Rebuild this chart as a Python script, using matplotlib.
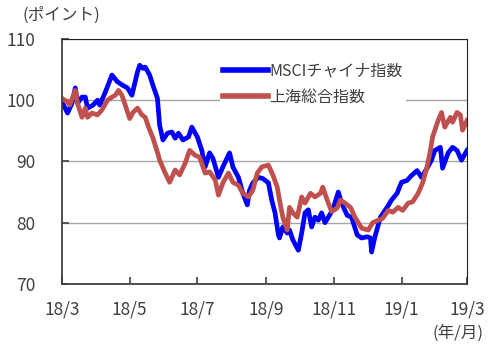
import numpy as np
import pandas as pd
import matplotlib
matplotlib.use("Agg")
import matplotlib.pyplot as plt

plt.rcParams['font.family'] = ['Noto Sans CJK JP', 'DejaVu Sans']

start = pd.Timestamp('2018-03-01')

# days since 2018-03-01 and index level (start = 100)
msci_days = [0, 5, 9, 12, 14, 18, 21, 23, 28, 32, 34, 39, 45, 50, 55, 59, 63, 68, 70, 73,
             75, 79, 82, 86, 88, 91, 95, 99, 102, 105, 109, 114, 117, 122, 126, 129, 133, 136,
             141, 145, 151, 154, 159, 163, 167, 169, 172, 177, 181, 186, 189, 192, 195, 196,
             199, 203, 205, 208, 213, 216, 219, 222, 225, 228, 231, 234, 237, 240, 244, 249,
             252, 257, 261, 266, 270, 275, 278, 279, 282, 287, 293, 297, 302, 306, 311, 315,
             320, 324, 329, 333, 336, 341, 343, 348, 352, 356, 360, 365]
msci_vals = [99.7, 97.9, 99.5, 102.0, 99.5, 100.5, 100.5, 98.7, 99.2, 100.0, 99.2, 101.3,
             104.1, 103.0, 102.4, 102.0, 100.8, 104.6, 105.7, 105.2, 105.4, 104.1, 102.4,
             100.3, 95.9, 93.5, 94.6, 94.8, 93.8, 94.6, 93.5, 94.0, 95.6, 94.0, 91.8, 89.1,
             91.4, 90.5, 87.4, 89.1, 91.4, 89.1, 87.4, 84.8, 82.9, 85.3, 86.5, 87.4, 87.2,
             86.5, 83.7, 81.6, 78.0, 77.5, 79.3, 78.3, 78.8, 77.2, 75.5, 78.3, 81.6, 82.1,
             79.3, 80.9, 80.4, 81.6, 80.0, 80.9, 82.1, 85.0, 83.2, 81.2, 80.9, 78.0, 77.5,
             77.7, 77.5, 75.2, 77.7, 80.9, 82.5, 83.7, 84.8, 86.6, 86.9, 87.7, 88.5, 87.4,
             88.9, 90.2, 91.8, 92.3, 88.9, 91.4, 92.3, 91.8, 90.2, 91.8]

sh_days = [0, 5, 7, 12, 14, 18, 21, 23, 27, 32, 36, 41, 45, 48, 51, 54, 57, 61, 64, 68, 72,
           75, 78, 82, 86, 88, 93, 97, 102, 106, 111, 115, 120, 124, 129, 133, 138, 141, 145,
           150, 154, 159, 163, 168, 172, 176, 180, 186, 190, 194, 196, 199, 203, 205, 208,
           212, 216, 219, 224, 228, 233, 235, 239, 243, 248, 251, 255, 260, 264, 270, 276,
           280, 285, 289, 294, 298, 303, 307, 312, 316, 321, 325, 329, 332, 334, 339, 342,
           345, 350, 352, 356, 359, 361, 365]
sh_vals = [100.3, 99.7, 99.2, 101.6, 99.5, 97.2, 98.7, 97.2, 97.9, 97.6, 98.4, 100.0, 100.5,
           100.8, 101.6, 100.8, 99.2, 97.0, 98.0, 98.7, 97.6, 97.2, 95.6, 93.8, 91.5, 90.2,
           88.1, 86.6, 88.6, 87.8, 89.7, 91.8, 91.0, 90.7, 88.1, 88.3, 87.0, 84.5, 86.5,
           88.1, 86.6, 86.1, 84.8, 84.2, 85.3, 88.1, 89.1, 89.4, 87.8, 85.8, 83.7, 80.9,
           78.8, 82.5, 81.6, 80.9, 84.2, 83.2, 84.8, 84.2, 84.8, 85.8, 83.7, 81.8, 82.4,
           83.7, 83.2, 82.5, 80.9, 79.1, 78.8, 80.0, 80.4, 80.7, 82.0, 81.7, 82.5, 82.0,
           83.2, 83.4, 84.8, 86.5, 89.1, 91.8, 94.0, 96.7, 98.0, 95.6, 97.2, 96.4, 98.0,
           97.6, 95.1, 96.7]

series_names = ['MSCIチャイナ指数', '上海総合指数']
series_colors = ['#0000FF', '#C0504D']

tick_dates = ['2018-03-01', '2018-05-01', '2018-07-01', '2018-09-01',
              '2018-11-01', '2019-01-01', '2019-03-01']
tick_labels = ['18/3', '18/5', '18/7', '18/9', '18/11', '19/1', '19/3']

msci_x = start + pd.to_timedelta(msci_days, unit='D')
sh_x = start + pd.to_timedelta(sh_days, unit='D')

fig = plt.figure(figsize=(5, 3.54), dpi=100)
ax = fig.add_axes([0.124, 0.198, 0.81, 0.692])

ax.plot(msci_x, msci_vals, color=series_colors[0], lw=3.4, label=series_names[0],
        solid_joinstyle='round')
ax.plot(sh_x, sh_vals, color=series_colors[1], lw=3.4, label=series_names[1],
        solid_joinstyle='round')

ax.set_ylim(70, 110)
ax.set_yticks([70, 80, 90, 100, 110])
ax.set_xlim(pd.Timestamp(tick_dates[0]), pd.Timestamp(tick_dates[-1]))
ax.set_xticks(pd.to_datetime(tick_dates))
ax.set_xticklabels(tick_labels)
ax.grid(axis='y', color='#A6A6A6', lw=1)
ax.set_axisbelow(True)

for s in ['left', 'bottom']:
    ax.spines[s].set_color('#404040')
    ax.spines[s].set_linewidth(1.3)
for s in ['top', 'right']:
    ax.spines[s].set_color('#202020')
    ax.spines[s].set_linewidth(0.8)
ax.tick_params(direction='in', length=5, width=1.2, color='#404040',
               labelsize=12.5, labelcolor='#404040', pad=12)
ax.tick_params(axis='y', pad=19)

leg = ax.legend(loc='upper left', bbox_to_anchor=(0.39, 0.915), frameon=True,
                fontsize=11.5, handlelength=2.8, labelspacing=0.55, borderpad=0.2,
                handletextpad=0.1, borderaxespad=0)
leg.get_frame().set_edgecolor('none')
leg.get_frame().set_facecolor('white')
leg.get_frame().set_alpha(1)
for t in leg.get_texts():
    t.set_color('#404040')
for h in leg.get_lines():
    h.set_linewidth(4)

fig.text(0.044, 0.958, '(ポイント)', fontsize=12, color='#404040', va='center')
fig.text(0.968, 0.06, '(年/月)', fontsize=12, color='#404040', va='center', ha='right')

fig.savefig('out.png', dpi=100)
